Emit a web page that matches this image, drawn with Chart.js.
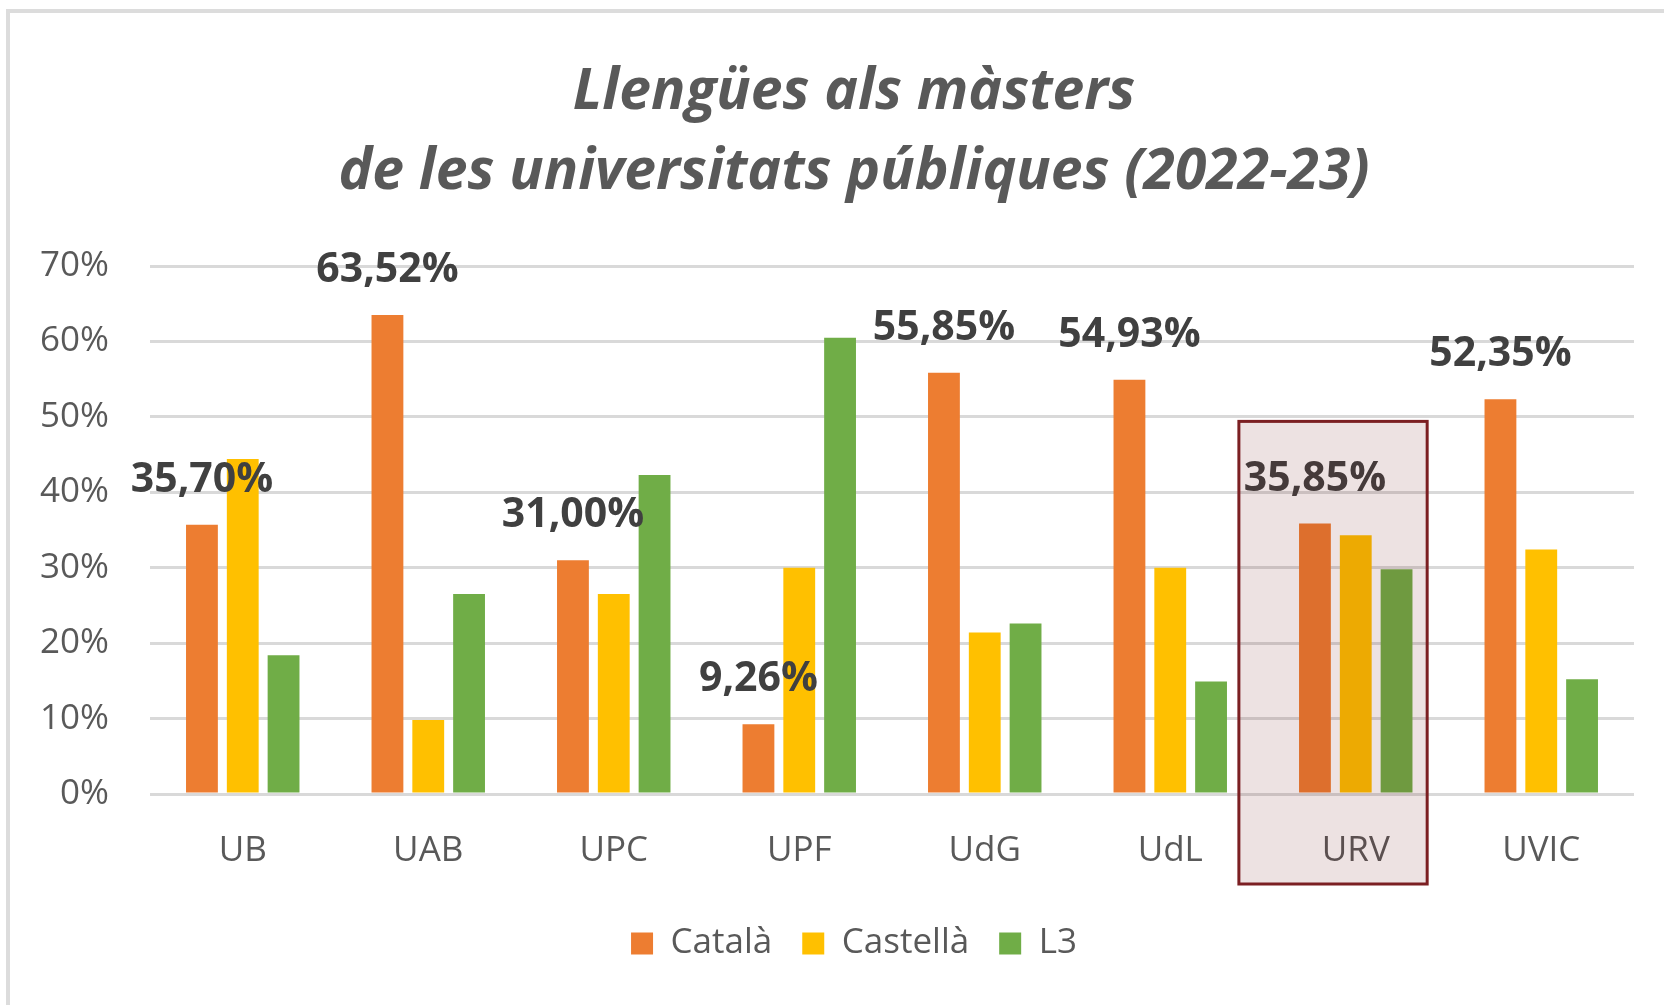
<!DOCTYPE html>
<html>
<head>
<meta charset="utf-8">
<title>Llengües als màsters</title>
<script src="https://cdn.jsdelivr.net/npm/chart.js@4.4.0/dist/chart.umd.min.js"></script>
<style>
  html, body { margin: 0; padding: 0; background: #fff; width: 1664px; height: 1005px; overflow: hidden; }
  #marc { position: absolute; left: 6px; top: 9px; width: 1700px; height: 1100px; border: 4px solid #dcdcdc; box-sizing: border-box; }
  #wrap { position: absolute; left: 0; top: 0; width: 1664px; height: 1005px; }
</style>
</head>
<body>
<div id="marc"></div>
<div id="wrap"><canvas id="grafic"></canvas></div>
<script>
// Dades (llegides del gràfic original)
const universitats = ['UB', 'UAB', 'UPC', 'UPF', 'UdG', 'UdL', 'URV', 'UVIC'];
const catala = [35.70, 63.52, 31.00, 9.26, 55.85, 54.93, 35.85, 52.35];
const castella = [44.4, 9.8, 26.5, 30.0, 21.4, 30.0, 34.3, 32.4];
const l3 = [18.4, 26.5, 42.3, 60.5, 22.6, 14.9, 29.8, 15.2];
const titol = ['Llengües als màsters', 'de les universitats públiques (2022-23)'];
const destacada = 'URV';

const FONT = "'Open Sans', 'DejaVu Sans', sans-serif";
Chart.defaults.font.family = FONT;

// Etiquetes de valor sobre les barres de català
const etiquetes = {
  id: 'etiquetes',
  afterDatasetsDraw(chart) {
    const ctx = chart.ctx;
    const meta = chart.getDatasetMeta(0);
    ctx.save();
    ctx.font = 'bold 41px ' + FONT;
    ctx.fillStyle = '#404040';
    ctx.textAlign = 'center';
    ctx.textBaseline = 'alphabetic';
    meta.data.forEach((bar, i) => {
      const txt = catala[i].toFixed(2).replace('.', ',') + '%';
      ctx.fillText(txt, bar.x, bar.y - 33);
    });
    ctx.restore();
  }
};

// Requadre que destaca la URV
const requadre = {
  id: 'requadre',
  afterDraw(chart) {
    const x = chart.scales.x;
    const y = chart.scales.y;
    const idx = universitats.indexOf(destacada);
    if (idx < 0) return;
    const w = x.width / universitats.length;
    const c = x.getPixelForValue(idx);
    const left = c - 0.63 * w;
    const right = c + 0.385 * w;
    const top = y.getPixelForValue(49.4);
    const bottom = y.getPixelForValue(0) + 90;
    const ctx = chart.ctx;
    ctx.save();
    ctx.fillStyle = 'rgba(110, 20, 20, 0.12)';
    ctx.fillRect(left, top, right - left, bottom - top);
    ctx.strokeStyle = '#7b1f22';
    ctx.lineWidth = 3;
    ctx.strokeRect(left, top, right - left, bottom - top);
    ctx.restore();
  }
};

new Chart(document.getElementById('grafic'), {
  type: 'bar',
  data: {
    labels: universitats,
    datasets: [
      { label: 'Català', data: catala, backgroundColor: '#ED7D31' },
      { label: 'Castellà', data: castella, backgroundColor: '#FFC000' },
      { label: 'L3', data: l3, backgroundColor: '#70AD47' },
    ],
  },
  options: {
    responsive: true,
    maintainAspectRatio: false,
    animation: false,
    categoryPercentage: 0.66,
    barPercentage: 0.78,
    layout: { padding: { left: 74, right: 30, top: 0, bottom: 34 } },
    plugins: {
      title: {
        display: true,
        text: titol,
        color: '#595959',
        font: { family: FONT, size: 57, weight: 'bold', style: 'italic', lineHeight: '80px' },
        padding: { top: 53, bottom: 53 },
      },
      legend: {
        position: 'bottom',
        labels: {
          color: '#595959',
          font: { size: 35 },
          boxWidth: 22,
          boxHeight: 22,
          padding: 30,
        },
      },
      tooltip: { enabled: false },
    },
    scales: {
      x: {
        grid: { display: false },
        border: { display: false },
        ticks: { color: '#595959', font: { size: 35 }, padding: 28 },
        afterFit(scale) { scale.height = 102; },
      },
      y: {
        min: 0,
        max: 70,
        border: { display: false },
        grid: { color: '#d9d9d9', lineWidth: 3, drawTicks: false },
        ticks: {
          stepSize: 10,
          color: '#595959',
          font: { size: 35 },
          padding: 41,
          callback: (v) => v + '%',
        },
        afterFit(scale) {
          scale.width = 76;
          // les etiquetes surten per l'esquerra de l'eix: sense retall
          scale._computeLabelArea = () => undefined;
        },
      },
    },
  },
  plugins: [etiquetes, requadre],
});
</script>
</body>
</html>
